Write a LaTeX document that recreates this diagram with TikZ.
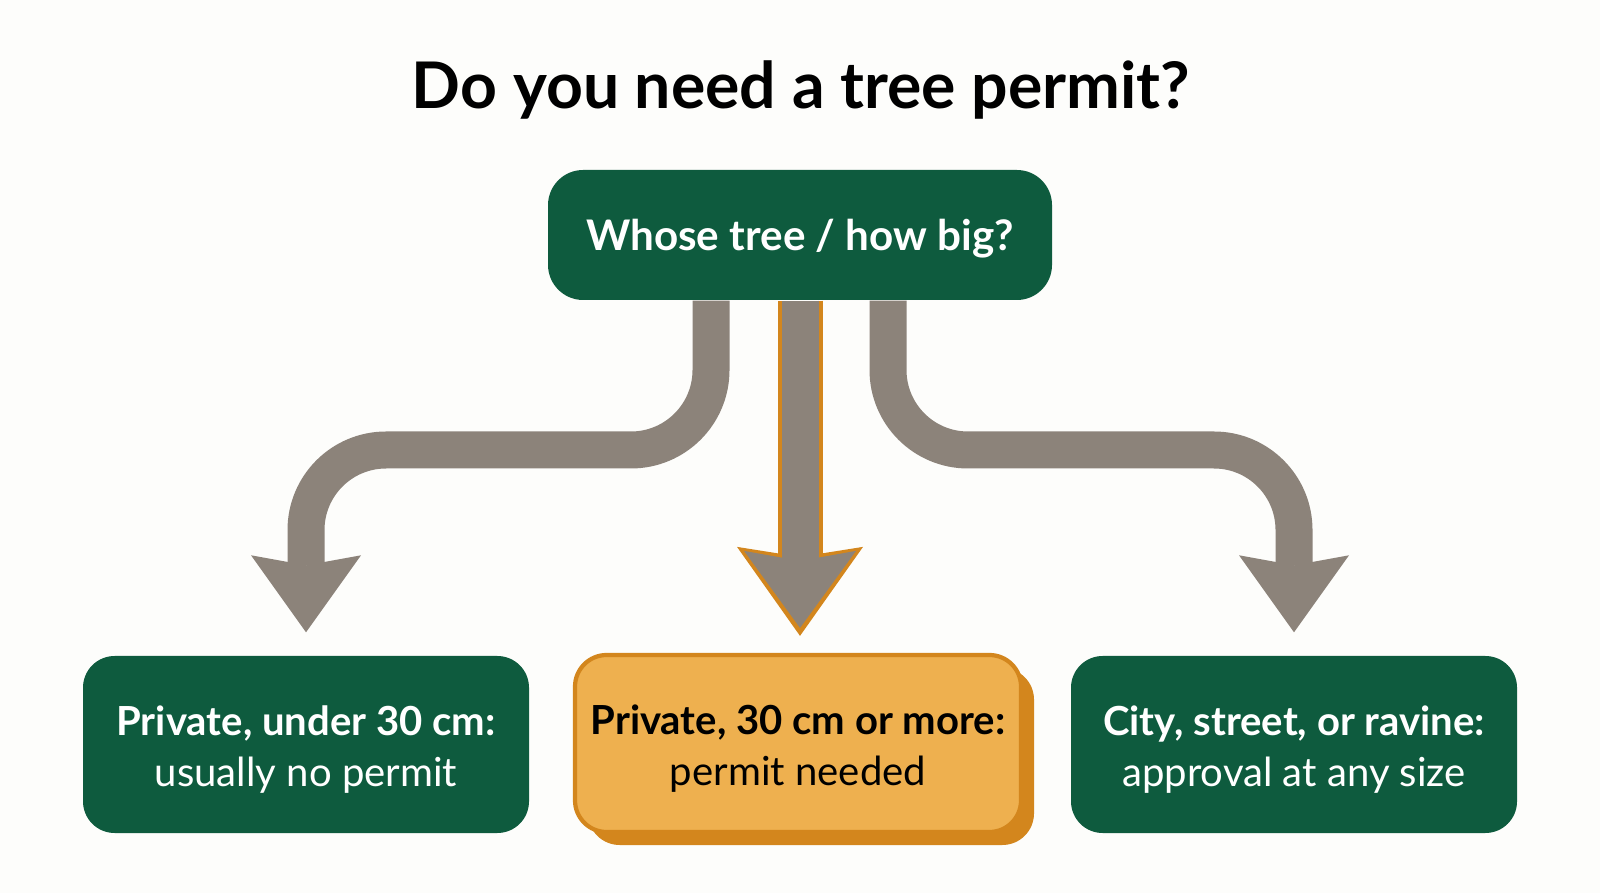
\documentclass[tikz,border=0pt]{standalone}
\usepackage{fontspec}
\setmainfont{Lato}
\usepackage{xcolor}
\usetikzlibrary{arrows.meta, positioning, calc, shadows}
\definecolor{C_GREEN}{HTML}{0E5B3E}
\definecolor{C_ARR}  {HTML}{8C837A}
\definecolor{C_ORG}  {HTML}{EEB04F}
\definecolor{C_ORGD} {HTML}{D3861D}
\definecolor{C_BG}   {HTML}{FDFDFB}
\newcommand{\padtop}{\rule{0pt}{0.39cm}}
\tikzset{
  %% -- heading --
  TP/title/.style={font=\fontsize{18.3}{22}\selectfont\bfseries, inner sep=0pt},
  %% -- question box --
  TP/ask/.style={
    fill=C_GREEN, text=white, rounded corners=10pt,
    minimum width=5.04cm, minimum height=1.30cm,
    align=center, font=\fontsize{12}{15}\selectfont\bfseries
  },
  %% -- answer boxes --
  TP/leaf/.style={
    fill=C_GREEN, text=white, rounded corners=9pt,
    minimum width=4.46cm, minimum height=1.77cm,
    align=center, font=\fontsize{11.4}{14.5}\selectfont
  },
  TP/hot/.style={
    TP/leaf, fill=C_ORG, draw=C_ORGD, line width=1.2pt, text=black,
    drop shadow={shadow xshift=0.13cm, shadow yshift=-0.13cm,
      fill=C_ORGD, opacity=1}
  },
  %% -- branch arrows --
  TP/arr/.style={
    draw=C_ARR, line width=0.37cm, rounded corners=0.8cm,
    -{Stealth[length=0.77cm, width=1.10cm, inset=0.1cm, line width=0pt]},
    shorten >=0.23cm
  },
}

\begin{document}
\begin{tikzpicture}[x=1cm, y=1cm]
%% ── Canvas ───────────────────────────────────────────────────
\fill[C_BG] (0,0) rectangle (16,-8.93);
\useasboundingbox (0,0) rectangle (16,-8.93);

%% ── Heading ──────────────────────────────────────────────────
\node[TP/title, anchor=base] (title) at (8.01,-1.09)
  {Do you need a tree permit?};

%% ── Question ─────────────────────────────────────────────────
\node[TP/ask] (ask) at (8.00,-2.35) {\padtop Whose tree / how big?};

%% ── Answers ──────────────────────────────────────────────────
\node[TP/leaf] (small) at (3.06,-7.445)
  {\padtop\textbf{Private, under 30 cm:}\\usually no permit};
\node[TP/hot] (big) at (7.98,-7.435)
  {\padtop\textbf{Private, 30 cm or more:}\\permit needed};
\node[TP/leaf] (city) at (12.94,-7.445)
  {\padtop\textbf{City, street, or ravine:}\\approval at any size};

%% ── Branches ─────────────────────────────────────────────────
\coordinate (fork) at (8.00,-4.50);

%% left: private, small
\draw[TP/arr] ([xshift=-0.89cm]ask.south) |- (fork -| small.north)
  -- (small.north);

%% right: city / street / ravine
\draw[TP/arr] ([xshift=0.88cm]ask.south) |- (fork -| city.north)
  -- (city.north);

%% middle: private, big (highlighted)
\draw[TP/arr, draw=C_ORGD, line width=0.45cm,
  -{Stealth[length=0.89cm, width=1.26cm, inset=0.1cm, line width=0pt]},
  shorten >=0.17cm] (ask.south) -- (ask.south |- big.north);
\draw[TP/arr, -{Stealth[length=0.77cm, width=1.12cm, inset=0.1cm, line width=0pt]},
  shorten >=0.25cm] (ask.south) -- (ask.south |- big.north);

\end{tikzpicture}
\end{document}
